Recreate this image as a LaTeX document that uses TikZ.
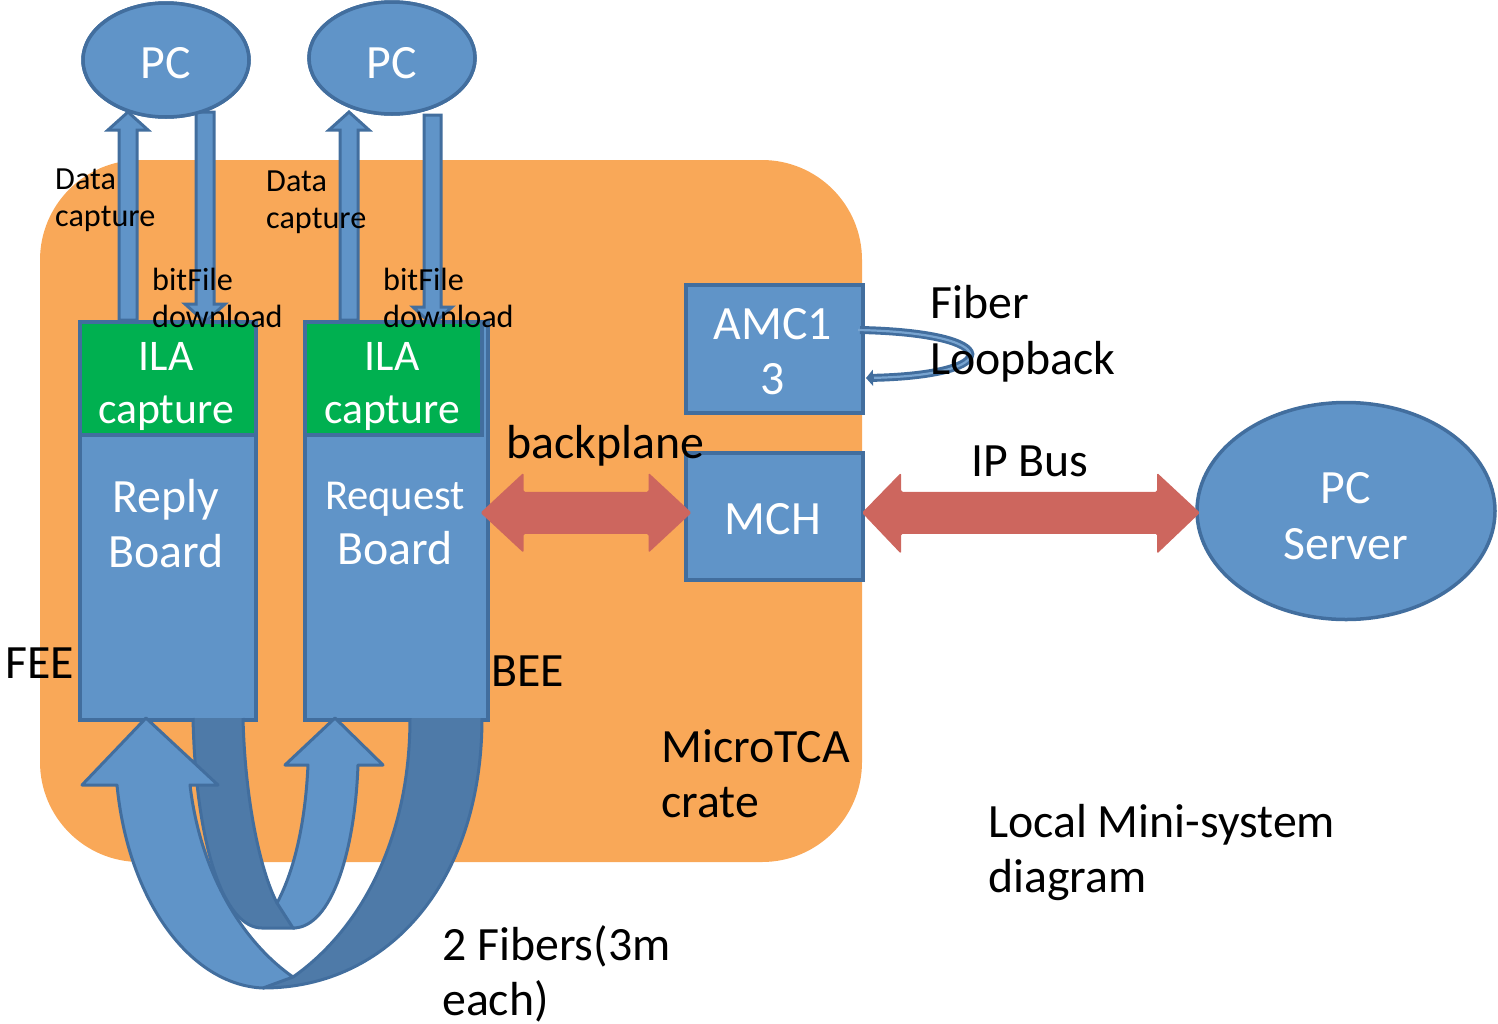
\documentclass[tikz,border=0pt]{standalone}
\usepackage{fontspec}
\setmainfont{Carlito}
\usetikzlibrary{shapes.geometric,calc,arrows.meta}
\definecolor{crate}{RGB}{249,168,88}
\definecolor{boxblue}{RGB}{96,148,200}
\definecolor{edgeblue}{RGB}{66,110,158}
\definecolor{ribbon}{RGB}{78,122,168}
\definecolor{ilagreen}{RGB}{0,176,80}
\definecolor{linkred}{RGB}{205,102,94}
\newcommand\setfs[2]{\fontsize{#1}{#2}\selectfont}
\begin{document}
\begin{tikzpicture}[x=1pt,y=-1pt,
  box/.style={draw=edgeblue, line width=3.5, fill=boxblue, inner sep=0, anchor=north west},
  ilabox/.style={draw=edgeblue, line width=3.5, fill=ilagreen, inner sep=0, anchor=north west},
  pcell/.style={ellipse, draw=edgeblue, line width=3.5, fill=boxblue, inner sep=0},
  thinarrow/.style={draw=edgeblue, line width=3, fill=boxblue, line join=miter},
  band/.style={draw=edgeblue, line width=3, line join=round},
  redlink/.style={fill=linkred, rounded corners=1.5},
  lbl/.style={inner sep=0, align=left, anchor=west, text=black},
  wlbl/.style={inner sep=0, align=center, text=white},
  small/.style={font=\setfs{32.2}{37}},
  big/.style={font=\setfs{47.8}{55}}]
\useasboundingbox (0,0) rectangle (1498,1023);

% MicroTCA crate
\fill[crate, rounded corners=100] (40,160) rectangle (862,862);

% boards with their ILA capture blocks
\node[box, minimum width=176, minimum height=398] (reply) at (78,320) {};
\node[ilabox, minimum width=176, minimum height=113] (ilaR) at (78,320) {};
\node[box, minimum width=183, minimum height=398] (request) at (303,320) {};
\node[ilabox, minimum width=177, minimum height=113] (ilaQ) at (303,320) {};

% AMC13 and MCH
\node[box, minimum width=177, minimum height=128] (amc) at (684,283) {};
\node[box, minimum width=177, minimum height=127] (mch) at (684,451) {};

% PCs
\node[pcell, minimum width=166, minimum height=114] (pc1) at (166,60) {};
\node[pcell, minimum width=166, minimum height=112] (pc2) at (392,58) {};
\node[pcell, minimum width=298, minimum height=217] (server) at (1346,511) {};

% JTAG links between the PCs and the boards
\draw[thinarrow] ($(reply.north west)+(41,0)$) -- ++(0,-190) -- ++(-11,0) -- ++(20,-18)
  -- ++(20,18) -- ++(-11,0) -- ++(0,190) -- cycle;
\draw[thinarrow] (196,112) -- (214,112) -- (214,304) -- (225,304) -- (205,322)
  -- (185,304) -- (196,304) -- cycle;
\draw[thinarrow] ($(request.north west)+(37,0)$) -- ++(0,-190) -- ++(-11,0) -- ++(20,-18)
  -- ++(20,18) -- ++(-11,0) -- ++(0,190) -- cycle;
\draw[thinarrow] (424,115) -- (441,115) -- (441,307) -- (452,307) -- (432.5,325)
  -- (413,307) -- (424,307) -- cycle;
\node[pcell, minimum width=166, minimum height=114] at (pc1) {};
\node[pcell, minimum width=166, minimum height=112] at (pc2) {};

% fibers between the two boards
\fill[ribbon] (193,718) .. controls (196,850) and (225,928) .. (262,928) -- (295,928)
  -- (277,903) .. controls (260,870) and (245,800) .. (243,718) -- cycle;
\draw[band] (193,718) .. controls (196,850) and (225,928) .. (262,928) -- (295,928);
\draw[band] (277,903) .. controls (260,870) and (245,800) .. (243,718);
\draw[band, fill=boxblue] (277,903) -- (293,928) .. controls (332,928) and (355,850) .. (358,765)
  -- (383,765) -- (335,718) -- (285,765) -- (308,765)
  .. controls (305,830) and (292,875) .. (277,903) -- cycle;
\fill[ribbon] (263,988) -- (293,977) .. controls (360,930) and (410,840) .. (410,718)
  -- (482,718) .. controls (482,880) and (390,988) .. (263,988) -- cycle;
\draw[band] (293,977) .. controls (360,930) and (410,840) .. (410,718);
\draw[band] (482,718) .. controls (482,880) and (390,988) .. (263,988);
\draw[band, fill=boxblue] (263,988) -- (293,977) .. controls (240,940) and (200,870) .. (190,785)
  -- (218,785) -- (146,718) -- (82,785) -- (117,785)
  .. controls (128,900) and (190,985) .. (263,988) -- cycle;

% backplane and IP bus links
\fill[redlink] (request.east |- mch.west) ++(-9,-3.5) coordinate (bpL)
  (bpL) -- ++(43,-40) -- ++(0,19) -- ++(125,0) -- ++(0,-19) -- ++(43,40)
  -- ++(-43,40) -- ++(0,-19) -- ++(-125,0) -- ++(0,19) -- cycle;
\fill[redlink] ($(mch.west)+(178,-3.5)$) coordinate (ipL)
  (ipL) -- ++(39,-40) -- ++(0,19) -- ++(256,0) -- ++(0,-19) -- ++(43,40)
  -- ++(-43,41) -- ++(0,-20) -- ++(-256,0) -- ++(0,20) -- cycle;

% fiber loopback on the AMC13
\draw[edgeblue, line width=8, -{Triangle[width=16,length=7]}]
  (860,330) .. controls (1005,333) and (1005,375) .. (866,378);
\draw[boxblue!85!white, line width=2.2, shorten >=8]
  (858,330) .. controls (1005,333) and (1005,375) .. (866,378);

% labels inside shapes
\node[wlbl, big] (pc1t) at (166,63) {PC};
\node[wlbl, big] (pc2t) at (392,63) {PC};
\node[wlbl, font=\setfs{43.7}{53}] (ilaRt) at (166,386) {ILA\\capture};
\node[wlbl, font=\setfs{43.7}{53}] (ilaQt) at (392,386) {ILA\\capture};
\node[wlbl, big] (replyt) at (166,524) {Reply\\Board};
\node[wlbl, big] (reqt) at (395,523.5) {{\setfs{42.6}{55}Request}\\Board};
\node[wlbl, big] (amct) at (773,352) {AMC1\\3};
\node[wlbl, big] (mcht) at (773,519) {MCH};
\node[wlbl, font=\setfs{47.8}{56}] (servert) at (1346,516) {PC\\Server};

% free labels
\node[lbl, small] (dc1) at (55,200.5) {Data\\capture};
\node[lbl, small] (dc2) at (266,202) {Data\\capture};
\node[lbl, small] (bf1) at (152,298) {bitFile\\download};
\node[lbl, small] (bf2) at (383,298) {bitFile\\download};
\node[lbl, big] (bpt) at (506,446) {backplane};
\node[inner sep=0, big] (ipt) at (1030,461) {IP Bus};
\node[lbl, font=\setfs{47.8}{56}] (fibt) at (930,334) {Fiber\\Loopback};
\node[lbl, big] (feet) at (5,663) {FEE};
\node[lbl, big] (beet) at (491,671) {BEE};
\node[lbl, big] (cratet) at (661,774) {MicroTCA\\crate};
\node[lbl, big] (titlet) at (988,852) {Local Mini-system\\diagram};
\node[lbl, big] (fibst) at (442,974) {2 Fibers(3m\\each)};
\end{tikzpicture}
\end{document}
